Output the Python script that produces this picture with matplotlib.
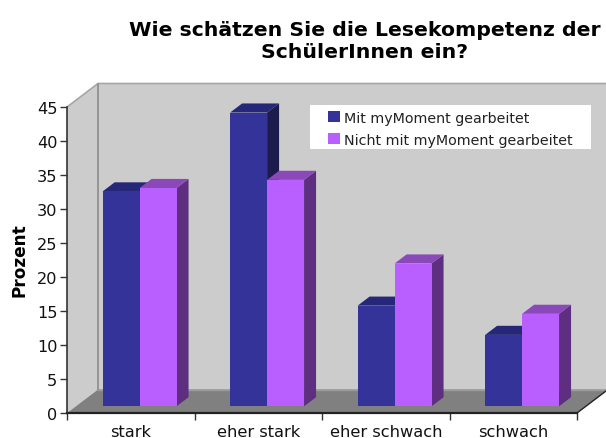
import matplotlib
matplotlib.use("Agg")
import matplotlib.pyplot as plt
from matplotlib.patches import Polygon, Patch, Rectangle

categories = ["stark", "eher stark", "eher schwach", "schwach"]
mit = [31.6, 43.2, 14.8, 10.5]
nicht = [32.1, 33.3, 21.0, 13.6]
series_names = ["Mit myMoment gearbeitet", "Nicht mit myMoment gearbeitet"]
yticks = [0, 5, 10, 15, 20, 25, 30, 35, 40, 45]
title = "Wie schätzen Sie die Lesekompetenz der\nSchülerInnen ein?"
ylabel = "Prozent"

W, H = 606, 439
plt.rcParams["font.family"] = ["DejaVu Sans"]
fig = plt.figure(figsize=(W / 100, H / 100), dpi=100, facecolor="white")
L, R, T, B = 67, 577, 108.0, 414.0
ax = fig.add_axes([L / W, 1 - B / H, (R - L) / W, (B - T) / H])
ax.set_xlim(0, 4)
ax.set_ylim(0, 45)
ax.patch.set_visible(False)

DX = 31 / 127.5
DY = 23.5 / 6.8


def P(x, y, d):
    return (x + d * DX, y + d * DY)


def poly(pts, fc, ec="none", lw=0, z=1):
    ax.add_patch(Polygon(pts, closed=True, facecolor=fc, edgecolor=ec, linewidth=lw,
                         zorder=z, clip_on=False))


# walls and floor
poly([P(0, 0, 1), P(4, 0, 1), P(4, 45, 1), P(0, 45, 1)], "#CCCCCC", z=1)
poly([P(0, 0, 0), P(0, 0, 1), P(0, 45, 1), P(0, 45, 0)], "#CCCCCC", z=1)
poly([P(0, 0, 0), P(4, 0, 0), P(4, 0, 1), P(0, 0, 1)], "#808080", z=1)
gc = "#A6A6A6"
ax.plot(*zip(P(0, 45, 0), P(0, 45, 1), P(4, 45, 1)), color=gc, lw=1.2, zorder=2, clip_on=False)
ax.plot(*zip(P(0, 0, 1), P(0, 45, 1)), color="#8C8C8C", lw=1.2, zorder=2, clip_on=False)
ax.plot(*zip(P(0, 0, 1), P(4, 0, 1)), color="#9A9A9A", lw=1.0, zorder=2, clip_on=False)
ax.plot(*zip(P(4, 0, 0), P(4, 0, 1)), color="#222222", lw=1.0, zorder=2, clip_on=False)

# bars
BW = 0.29
D0, D1 = 0.285, 0.672
styles = [("#333399", "#1C1C4C", "#27277A"), ("#B95FFF", "#5E2E80", "#8A48B8")]
z = 3
for i in range(len(categories)):
    for j, vals in enumerate((mit, nicht)):
        front, side, top = styles[j]
        x0 = i + 0.5 - BW + j * BW
        x1 = x0 + BW
        v = vals[i]
        poly([P(x1, 0, D0), P(x1, 0, D1), P(x1, v, D1), P(x1, v, D0)], side, z=z)
        poly([P(x0, v, D0), P(x1, v, D0), P(x1, v, D1), P(x0, v, D1)], top, z=z)
        ax.bar(x0 + D0 * DX, v, width=BW, bottom=D0 * DY, align="edge", color=front,
               zorder=z, clip_on=False)
        z += 1

for s in ("top", "right"):
    ax.spines[s].set_visible(False)
ax.spines["left"].set_color("#333333")
ax.spines["left"].set_linewidth(1.2)
ax.spines["bottom"].set_color("#222222")
ax.spines["bottom"].set_linewidth(1.6)
for s in ax.spines.values():
    s.set_zorder(50)

ax.set_yticks(yticks)
ax.set_xticks(range(5))
ax.set_xticklabels([])
ax.set_xticks([i + 0.5 for i in range(4)], minor=True)
ax.set_xticklabels(categories, minor=True)
ax.tick_params(axis="x", which="minor", length=0, pad=8, labelsize=11.7, labelcolor="#111111")
ax.tick_params(axis="x", which="major", length=5, width=1, color="#333333")
ax.tick_params(axis="y", length=5, width=1, color="#333333", labelsize=11.6, pad=2,
               labelcolor="#111111")

fig.text(364.5 / W, 1 - 41.5 / H, title, ha="center", va="center", fontsize=14.7,
         fontweight="bold", color="black", linespacing=1.24)
fig.text(19 / W, 1 - 260 / H, ylabel, rotation=90, ha="center", va="center", fontsize=12.2,
         fontweight="bold", color="black")

ax.add_patch(Rectangle((310 / W, 1 - 150 / H), 281 / W, 44 / H, transform=fig.transFigure,
                       facecolor="white", edgecolor="none", zorder=59, clip_on=False))
handles = [Patch(facecolor=styles[0][0]), Patch(facecolor=styles[1][0])]
leg = ax.legend(handles, series_names, loc="upper left",
                bbox_to_anchor=(328 / W, 1 - 111.5 / H), bbox_transform=fig.transFigure,
                fontsize=10.3, frameon=False, borderaxespad=0, borderpad=0,
                handlelength=0.84, handleheight=0.84, handletextpad=0.28, labelspacing=0.58)
leg.set_zorder(60)
for t in leg.get_texts():
    t.set_color("#222222")

fig.savefig("out.png", dpi=100, facecolor="white")
